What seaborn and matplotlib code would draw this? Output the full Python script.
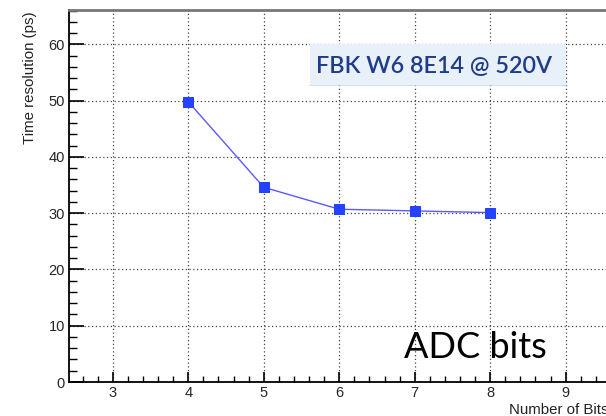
import matplotlib
matplotlib.use("Agg")
import matplotlib.pyplot as plt
from matplotlib.ticker import MultipleLocator
import seaborn as sns
import pandas as pd

# ADC bit depth vs. measured time resolution
bits = [4, 5, 6, 7, 8]
resolution_ps = [49.8, 34.6, 30.7, 30.4, 30.1]

sns.set_style("white")
plt.rcParams["font.family"] = ["Liberation Sans", "DejaVu Sans"]

df = pd.DataFrame({"bits": bits, "res": resolution_ps})

fig = plt.figure(figsize=(6.06, 4.16), dpi=100)
ax = fig.add_axes([69 / 606, 1 - 382 / 416, 545 / 606, 372 / 416])

sns.lineplot(data=df, x="bits", y="res", ax=ax, color="#5a5aff", linewidth=1.0,
             marker="s", markersize=6.5, markerfacecolor="#2442ff",
             markeredgecolor="#2442ff", zorder=5)

ax.set_xlim(2.42, 9.64)
ax.set_ylim(0, 66.1)
ax.xaxis.set_major_locator(MultipleLocator(1))
ax.xaxis.set_minor_locator(MultipleLocator(0.2))
ax.yaxis.set_major_locator(MultipleLocator(10))
ax.yaxis.set_minor_locator(MultipleLocator(2))
ax.tick_params(which="both", direction="in", bottom=True, left=True,
               top=False, right=False, color="black", labelsize=10.5, pad=3)
ax.tick_params(axis="y", which="major", length=11, width=1.2)
ax.tick_params(axis="y", which="minor", length=6, width=1.0)
ax.tick_params(axis="x", which="major", length=7.5, width=1.2)
ax.tick_params(axis="x", which="minor", length=4.3, width=1.0)
ax.grid(True, which="major", linestyle=(0, (1, 2)), color="#444444", linewidth=0.9)

for side in ["left", "bottom"]:
    ax.spines[side].set_color("black")
    ax.spines[side].set_linewidth(1.3)
ax.spines["top"].set_color("#777777")
ax.spines["top"].set_linewidth(2.0)
ax.spines["right"].set_color("#777777")

ax.set_xlabel("")
ax.set_ylabel("")
fig.text(30 / 606, 1 - 11 / 416, "Time resolution (ps)", rotation=90,
         ha="center", va="top", fontsize=10.8, color="#222222")
fig.text(509 / 606, 1 - 410 / 416, "Number of Bits", ha="left", va="center",
         fontsize=10.8, color="#222222")

# sample label in a light-blue box
fig.patches.append(plt.Rectangle((310 / 606, 1 - 85 / 416), 256 / 606, 41 / 416,
                                 transform=fig.transFigure, facecolor="#e8f1fa",
                                 edgecolor="none", zorder=3))
fig.lines.append(plt.Line2D([310 / 606, 566 / 606], [1 - 85 / 416, 1 - 85 / 416],
                            transform=fig.transFigure, color="#c8dcf0", linewidth=1.2))
fig.text(316 / 606, 1 - 66 / 416, "FBK W6 8E14 @ 520V", ha="left", va="center",
         fontsize=16.8, color="#1f3c88", family=["Lato", "DejaVu Sans"],
         fontweight="semibold", zorder=4)

fig.text(404 / 606, 1 - 348 / 416, "ADC bits", ha="left", va="center",
         fontsize=26, color="black", family=["Lato", "DejaVu Sans"], zorder=6)

fig.savefig("out.png", dpi=100)
